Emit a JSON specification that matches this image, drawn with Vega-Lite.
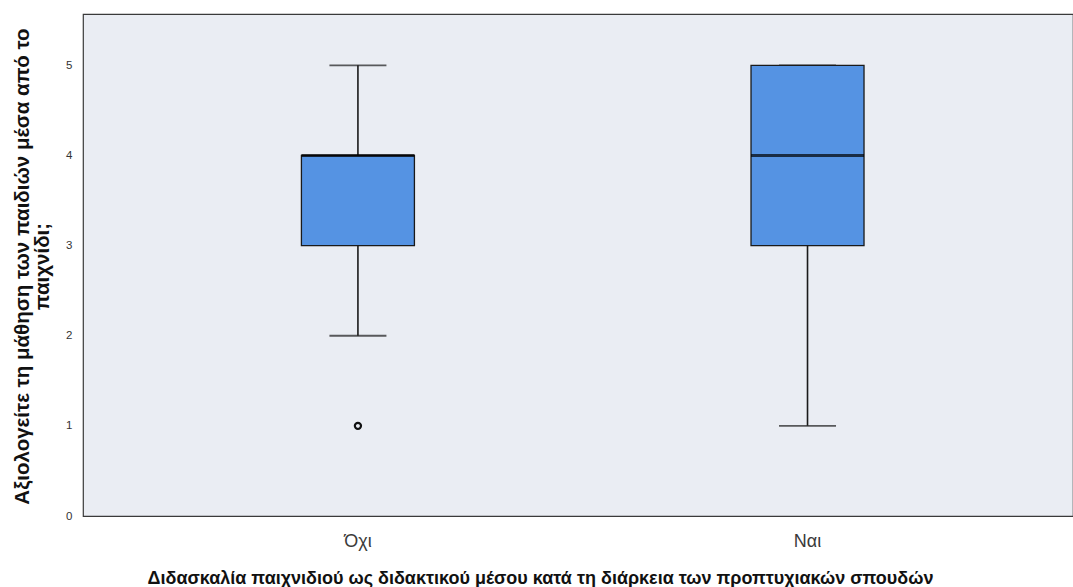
{
  "$schema": "https://vega.github.io/schema/vega-lite/v6.json",
  "autosize": {"type": "none"},
  "padding": {"left": 83, "top": 14, "right": 0, "bottom": 71},
  "width": 990,
  "height": 502,
  "background": "#ffffff",
  "config": {
    "view": {"fill": "#eaedf3", "stroke": "#3a3a3a", "strokeWidth": 1.2},
    "font": "Liberation Sans"
  },
  "datasets": {
    "summary": [
      {"group": "Όχι", "lower": 2, "q1": 3, "median": 4, "q3": 4, "upper": 5},
      {"group": "Ναι", "lower": 1, "q1": 3, "median": 4, "q3": 5, "upper": 5}
    ],
    "outliers": [
      {"group": "Όχι", "value": 1}
    ]
  },
  "encoding": {
    "x": {
      "field": "group",
      "type": "nominal",
      "sort": ["Όχι", "Ναι"],
      "scale": {"type": "band", "paddingInner": 0, "paddingOuter": 0.101, "align": 0.552},
      "axis": {
        "title": "Διδασκαλία παιχνιδιού ως διδακτικού μέσου κατά τη διάρκεια των προπτυχιακών σπουδών",
        "domain": false,
        "ticks": false,
        "grid": false,
        "labelAngle": 0,
        "labelFontSize": 18,
        "labelColor": "#3a3a3a",
        "labelPadding": 16,
        "titleFontSize": 18,
        "titleFontWeight": "bold",
        "titleColor": "#111111",
        "titleX": 457,
        "titleY": 67,
        "titleBaseline": "alphabetic",
        "titleAnchor": "middle"
      }
    }
  },
  "layer": [
    {
      "data": {"name": "summary"},
      "mark": {"type": "rule", "stroke": "#1a1a1a", "strokeWidth": 1.6},
      "encoding": {
        "y": {
          "field": "lower",
          "type": "quantitative",
          "scale": {"domain": [0, 5.57], "nice": false, "zero": true},
          "axis": {
            "title": ["Αξιολογείτε τη μάθηση των παιδιών μέσα από το", "παιχνίδι;"],
            "values": [0, 1, 2, 3, 4, 5],
            "format": "d",
            "domain": false,
            "ticks": false,
            "grid": false,
            "labelFontSize": 11.5,
            "labelColor": "#333333",
            "labelPadding": 11,
            "titleFontSize": 20.5,
            "titleFontWeight": "bold",
            "titleColor": "#111111",
            "titleAngle": -90,
            "titleX": -71,
            "titleY": 252,
            "titleBaseline": "top",
            "titleAlign": "center",
            "titleLineHeight": 20
          }
        },
        "y2": {"field": "upper"}
      }
    },
    {
      "data": {"name": "summary"},
      "mark": {"type": "tick", "size": 57, "thickness": 1.8, "color": "#1a1a1a", "orient": "horizontal"},
      "encoding": {"y": {"field": "lower", "type": "quantitative"}}
    },
    {
      "data": {"name": "summary"},
      "mark": {"type": "tick", "size": 57, "thickness": 1.8, "color": "#1a1a1a", "orient": "horizontal"},
      "encoding": {"y": {"field": "upper", "type": "quantitative"}}
    },
    {
      "data": {"name": "summary"},
      "mark": {"type": "bar", "size": 113, "fill": "#5593e3", "stroke": "#1a1a1a", "strokeWidth": 1.3},
      "encoding": {
        "y": {"field": "q1", "type": "quantitative"},
        "y2": {"field": "q3"}
      }
    },
    {
      "data": {"name": "summary"},
      "mark": {"type": "tick", "size": 113, "thickness": 3, "color": "#000000", "orient": "horizontal"},
      "encoding": {"y": {"field": "median", "type": "quantitative"}}
    },
    {
      "data": {"name": "outliers"},
      "mark": {"type": "point", "shape": "circle", "filled": false, "size": 38, "stroke": "#111111", "strokeWidth": 2.2, "opacity": 1},
      "encoding": {"y": {"field": "value", "type": "quantitative"}}
    }
  ]
}
